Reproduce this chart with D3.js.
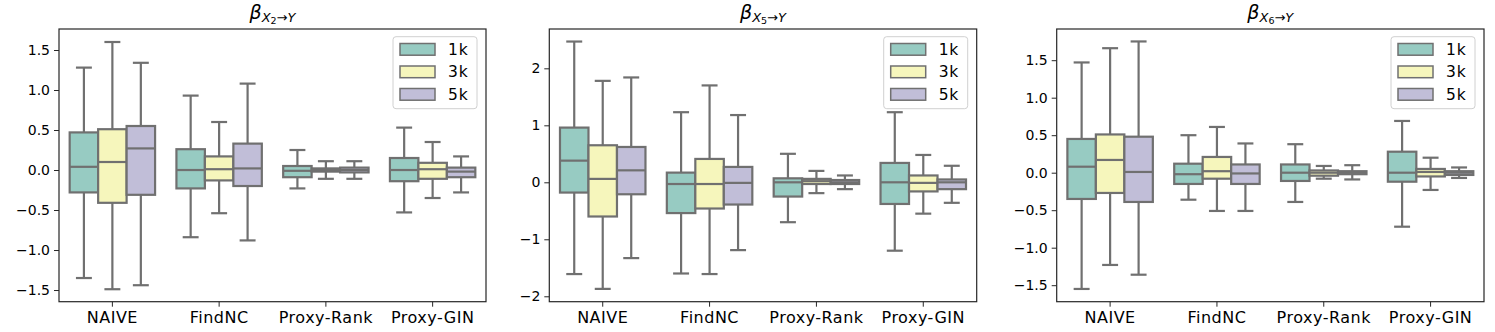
<!DOCTYPE html>
<html lang="en">
<head>
    <meta charset="UTF-8">
    <title>Beta boxplots</title>
    <script src="https://d3js.org/d3.v7.min.js"></script>
    <style>
        body { margin: 0; background: #fff; }
        text { font-family: "DejaVu Sans", sans-serif; fill: #000; }
        .axis text { font-size: 14px; }
        .xaxis text { font-size: 16px; letter-spacing: 0.5px; }
        .axis path, .axis line { stroke: #262626; }
        .frame { fill: none; stroke: #262626; stroke-width: 1.2; }
        .box line, .box rect { stroke: #707070; stroke-width: 2.2; }
    </style>
</head>
<body>
<svg id="chart" width="1495" height="332"></svg>
<script>
    // categories and hue levels
    const categories = ["NAIVE", "FindNC", "Proxy-Rank", "Proxy-GIN"];
    const hues = ["1k", "3k", "5k"];
    const colors = ["#97cbc2", "#f6f6bc", "#c1bed8"];

    // box stats per category, per hue: [whisker low, q1, median, q3, whisker high]
    const statsX2 = [
        [[-1.35, -0.28, 0.04, 0.47, 1.28], [-1.49, -0.41, 0.10, 0.51, 1.60], [-1.44, -0.31, 0.27, 0.55, 1.34]],
        [[-0.84, -0.23, 0.00, 0.26, 0.93], [-0.54, -0.13, 0.01, 0.17, 0.60], [-0.88, -0.20, 0.02, 0.33, 1.08]],
        [[-0.23, -0.09, -0.01, 0.05, 0.25], [-0.11, -0.02, 0.00, 0.02, 0.11], [-0.11, -0.03, 0.00, 0.03, 0.11]],
        [[-0.53, -0.14, 0.00, 0.15, 0.53], [-0.35, -0.11, 0.01, 0.09, 0.35], [-0.28, -0.09, -0.02, 0.03, 0.17]]
    ];
    const statsX5 = [
        [[-1.61, -0.18, 0.38, 0.96, 2.47], [-1.87, -0.60, 0.06, 0.65, 1.78], [-1.33, -0.21, 0.21, 0.62, 1.84]],
        [[-1.60, -0.54, -0.03, 0.17, 1.23], [-1.61, -0.46, -0.03, 0.41, 1.70], [-1.19, -0.39, -0.01, 0.27, 1.18]],
        [[-0.70, -0.25, 0.00, 0.07, 0.50], [-0.19, -0.03, 0.02, 0.06, 0.20], [-0.12, -0.03, 0.00, 0.04, 0.12]],
        [[-1.20, -0.38, 0.00, 0.34, 1.23], [-0.55, -0.16, -0.01, 0.12, 0.48], [-0.36, -0.12, 0.00, 0.05, 0.29]]
    ];
    const statsX6 = [
        [[-1.55, -0.35, 0.08, 0.45, 1.47], [-1.23, -0.27, 0.17, 0.51, 1.66], [-1.36, -0.39, 0.01, 0.48, 1.75]],
        [[-0.36, -0.15, -0.02, 0.12, 0.50], [-0.51, -0.08, 0.02, 0.21, 0.61], [-0.51, -0.15, -0.01, 0.11, 0.39]],
        [[-0.39, -0.11, 0.00, 0.11, 0.38], [-0.08, -0.04, 0.00, 0.03, 0.09], [-0.09, -0.02, 0.00, 0.02, 0.10]],
        [[-0.72, -0.12, 0.00, 0.28, 0.69], [-0.23, -0.05, 0.01, 0.05, 0.20], [-0.07, -0.03, 0.00, 0.02, 0.07]]
    ];

    // tick values per panel
    const ticksX2 = [-1.5, -1.0, -0.5, 0.0, 0.5, 1.0, 1.5];
    const ticksX5 = [-2, -1, 0, 1, 2];
    const ticksX6 = [-1.5, -1.0, -0.5, 0.0, 0.5, 1.0, 1.5];

    const panels = [
        {sub: "2", stats: statsX2, ticks: ticksX2, fmt: ".1f", domain: [-1.646, 1.7625], left: 59, right: 486},
        {sub: "5", stats: statsX5, ticks: ticksX5, fmt: "d", domain: [-2.095, 2.69], left: 549.3, right: 976.7},
        {sub: "6", stats: statsX6, ticks: ticksX6, fmt: ".1f", domain: [-1.72, 1.916], left: 1056.7, right: 1484}
    ];

    const plotTop = 29, plotBottom = 301.7;
    const svg = d3.select("#chart");

    panels.forEach(function(p) {
        const g = svg.append("g");
        const x = d3.scaleBand().domain(categories).range([p.left, p.right]).padding(0);
        const inner = d3.scaleBand().domain(hues)
            .range([x.bandwidth() * 0.1, x.bandwidth() * 0.9]).padding(0);
        const y = d3.scaleLinear().domain(p.domain).range([plotBottom, plotTop]);

        // boxes
        categories.forEach(function(cat, ci) {
            hues.forEach(function(h, hi) {
                const s = p.stats[ci][hi];
                const bx = x(cat) + inner(h);
                const bw = inner.bandwidth();
                const cx = bx + bw / 2;
                const cap = bw * 0.28;
                const b = g.append("g").attr("class", "box");
                b.append("line").attr("x1", cx).attr("x2", cx).attr("y1", y(s[0])).attr("y2", y(s[1]));
                b.append("line").attr("x1", cx).attr("x2", cx).attr("y1", y(s[3])).attr("y2", y(s[4]));
                b.append("line").attr("x1", cx - cap).attr("x2", cx + cap).attr("y1", y(s[0])).attr("y2", y(s[0]));
                b.append("line").attr("x1", cx - cap).attr("x2", cx + cap).attr("y1", y(s[4])).attr("y2", y(s[4]));
                b.append("rect")
                    .attr("x", bx).attr("width", bw)
                    .attr("y", y(s[3])).attr("height", Math.max(y(s[1]) - y(s[3]), 0.5))
                    .attr("fill", colors[hi]);
                b.append("line").attr("x1", bx).attr("x2", bx + bw).attr("y1", y(s[2])).attr("y2", y(s[2]));
            });
        });

        // axes
        g.append("g").attr("class", "axis")
            .attr("transform", `translate(${p.left},0)`)
            .call(d3.axisLeft(y).tickValues(p.ticks).tickFormat(d3.format(p.fmt)).tickSize(5).tickPadding(4))
            .call(a => a.select(".domain").remove());
        g.append("g").attr("class", "axis xaxis")
            .attr("transform", `translate(0,${plotBottom})`)
            .call(d3.axisBottom(x).tickSize(5).tickPadding(5))
            .call(a => a.select(".domain").remove());
        g.selectAll(".axis text").attr("fill", "#000");

        g.append("rect").attr("class", "frame")
            .attr("x", p.left).attr("y", plotTop)
            .attr("width", p.right - p.left).attr("height", plotBottom - plotTop);

        // title
        const t = g.append("text")
            .attr("x", (p.left + p.right) / 2).attr("y", 19)
            .attr("text-anchor", "middle");
        t.append("tspan").attr("font-style", "italic").attr("font-size", 19).text("β");
        t.append("tspan").attr("font-style", "italic").attr("font-size", 13).attr("dy", 3).text("X");
        t.append("tspan").attr("font-size", 9.5).attr("dy", 2).text(p.sub);
        t.append("tspan").attr("font-size", 13).attr("dy", -2).text("→");
        t.append("tspan").attr("font-style", "italic").attr("font-size", 13).text("Y");

        // legend
        const lx = p.right - 93, ly = plotTop + 7.7;
        const leg = g.append("g").attr("transform", `translate(${lx},${ly})`);
        leg.append("rect").attr("width", 84).attr("height", 72).attr("rx", 3)
            .attr("fill", "#fff").attr("fill-opacity", 0.8).attr("stroke", "#d0d0d0");
        hues.forEach(function(h, i) {
            const ry = 12.6 + i * 22.5;
            leg.append("rect").attr("x", 7).attr("y", ry - 5.8).attr("width", 35).attr("height", 11.7)
                .attr("fill", colors[i]).attr("stroke", "#707070").attr("stroke-width", 1.5);
            leg.append("text").attr("x", 55).attr("y", ry + 5.5).attr("font-size", 15.5)
                .attr("letter-spacing", 0.8).text(h);
        });
    });
</script>
</body>
</html>
